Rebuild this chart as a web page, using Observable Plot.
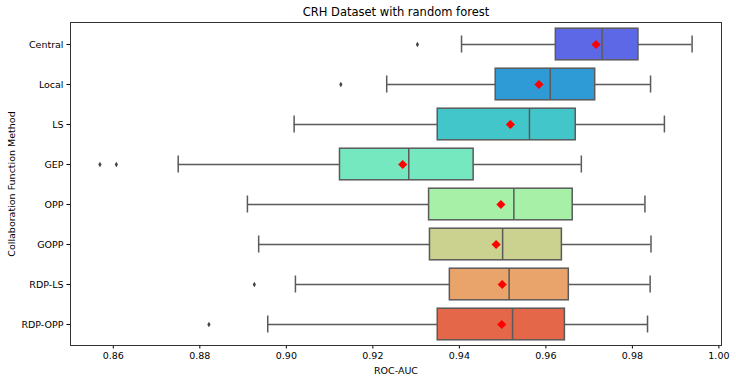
<!DOCTYPE html>
<html>
<head>
<meta charset="utf-8">
<script src="https://cdn.jsdelivr.net/npm/d3@7"></script>
<script src="https://cdn.jsdelivr.net/npm/@observablehq/plot@0.6"></script>
<style>
  html, body { margin: 0; padding: 0; background: #fff; }
  #chart svg { display: block; }
</style>
</head>
<body>
<div id="chart"></div>
<script>
const title = "CRH Dataset with random forest";
const xLabel = "ROC-AUC";
const yLabel = "Collaboration Function Method";
const methods = ["Central", "Local", "LS", "GEP", "OPP", "GOPP", "RDP-LS", "RDP-OPP"];
const whiskerLow  = [0.9405, 0.9232, 0.9018, 0.8750, 0.8910, 0.8936, 0.9021, 0.8957];
const q1          = [0.9623, 0.9484, 0.9350, 0.9124, 0.9330, 0.9332, 0.9378, 0.9350];
const median      = [0.9730, 0.9610, 0.9562, 0.9283, 0.9526, 0.9500, 0.9515, 0.9523];
const q3          = [0.9814, 0.9714, 0.9669, 0.9433, 0.9662, 0.9637, 0.9653, 0.9644];
const whiskerHigh = [0.9938, 0.9842, 0.9874, 0.9682, 0.9829, 0.9843, 0.9841, 0.9835];
const means       = [0.9716, 0.9584, 0.9518, 0.9269, 0.9496, 0.9485, 0.9499, 0.9498];
const outlierMethods = ["Central", "Local", "GEP", "GEP", "RDP-LS", "RDP-OPP"];
const outlierValues  = [0.9303, 0.9126, 0.8569, 0.8607, 0.8926, 0.8821];
const colors = ["#5d68e6", "#2e9bd6", "#43c6c9", "#76e8bf", "#a7f0a8", "#cbd18e", "#e9a46b", "#e36748"];
const xTicks = [0.86, 0.88, 0.90, 0.92, 0.94, 0.96, 0.98, 1.00];

const rows = methods.map((m, i) => ({
  method: m, lo: whiskerLow[i], q1: q1[i], med: median[i], q3: q3[i], hi: whiskerHigh[i], mean: means[i]
}));
const outliers = outlierMethods.map((m, i) => ({method: m, value: outlierValues[i]}));

const line = "#5a5a5a";
const lw = 1.5;
const boxInset = 4.2;
const capInset = 11.5;

const chart = Plot.plot({
  width: 736,
  height: 382,
  marginLeft: 70,
  marginRight: 15,
  marginTop: 22,
  marginBottom: 37,
  style: {fontFamily: "DejaVu Sans, sans-serif", fontSize: "9.5px", color: "#000", background: "#fff"},
  x: {domain: [0.8501, 1.0006], ticks: xTicks, tickFormat: d3.format(".2f"), tickSize: 3.5, tickPadding: 3, label: null},
  y: {domain: methods, padding: 0, tickSize: 3.5, tickPadding: 3.5, label: null},
  color: {domain: methods, range: colors},
  marks: [
    Plot.ruleY(rows, {y: "method", x1: "lo", x2: "q1", stroke: line, strokeWidth: lw}),
    Plot.ruleY(rows, {y: "method", x1: "q3", x2: "hi", stroke: line, strokeWidth: lw}),
    Plot.tickX(rows, {y: "method", x: "lo", stroke: line, strokeWidth: lw, insetTop: capInset, insetBottom: capInset}),
    Plot.tickX(rows, {y: "method", x: "hi", stroke: line, strokeWidth: lw, insetTop: capInset, insetBottom: capInset}),
    Plot.barX(rows, {y: "method", x1: "q1", x2: "q3", fill: "method", stroke: line, strokeWidth: lw, insetTop: boxInset, insetBottom: boxInset}),
    Plot.tickX(rows, {y: "method", x: "med", stroke: line, strokeWidth: lw, insetTop: boxInset, insetBottom: boxInset}),
    Plot.dot(rows, {y: "method", x: "mean", symbol: "diamond2", r: 4.1, fill: "#ff0000", stroke: "none"}),
    Plot.dot(outliers, {y: "method", x: "value", symbol: "diamond", r: 1.7, fill: "#444", stroke: "none"}),
    Plot.frame({stroke: "#333", strokeWidth: 1}),
    Plot.text([title], {frameAnchor: "top", dy: -10, fontSize: 11.5, fill: "#000", textAnchor: "middle", lineAnchor: "middle"}),
    Plot.text([xLabel], {frameAnchor: "bottom", dy: 25, fontSize: 9.5, fill: "#000", textAnchor: "middle", lineAnchor: "middle"}),
    Plot.text([yLabel], {frameAnchor: "left", dx: -59, rotate: -90, fontSize: 9.5, fill: "#000", textAnchor: "middle", lineAnchor: "middle"})
  ]
});
document.getElementById("chart").appendChild(chart);
</script>
</body>
</html>
